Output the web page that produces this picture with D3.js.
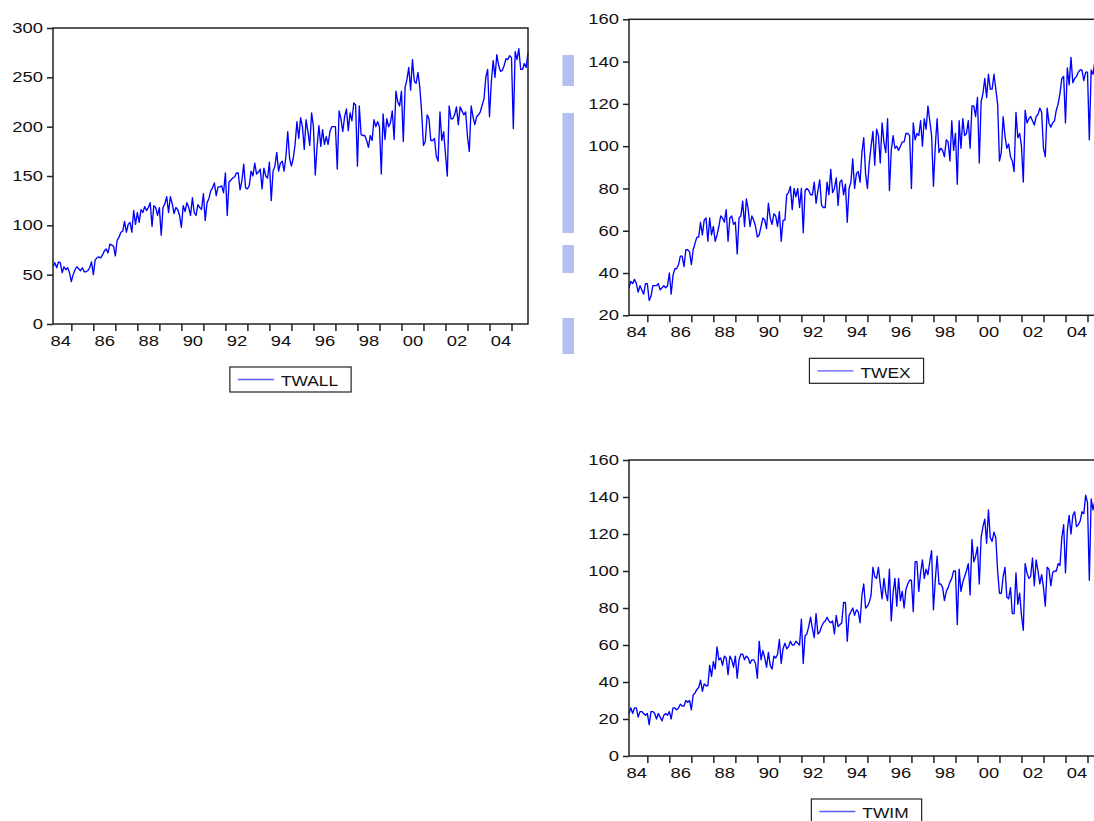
<!DOCTYPE html>
<html>
<head>
<meta charset="utf-8">
<script src="https://cdn.jsdelivr.net/npm/d3@7"></script>
<style>
html, body { margin: 0; padding: 0; background: #fff; overflow: hidden; }
svg { display: block; font-family: "Liberation Sans", Arial, sans-serif; }
</style>
</head>
<body>
<script>
// monthly series, first observation 1984M03, last 2005M10
var startYear = 1984, startMonth = 3;

var twall = [
    58, 62, 57, 63, 62, 52, 58, 55, 57, 52,                 // 1984 Mar-Dec
    43, 50, 55, 58, 56, 54, 57, 53, 53, 54, 57, 63,         // 1985
    50, 65, 67, 68, 67, 70, 74, 76, 72, 81, 80, 79,         // 1986
    69, 85, 88, 93, 94, 104, 93, 101, 103, 93, 115, 101,    // 1987
    113, 103, 116, 113, 119, 115, 118, 123, 99, 120, 118, 110,
    118, 90, 118, 122, 129, 113, 129, 122, 112, 118, 116, 110,
    98, 120, 114, 123, 118, 110, 128, 113, 110, 121, 118, 116,
    132, 105, 123, 127, 135, 138, 143, 130, 139, 139, 140, 133,
    153, 110, 144, 146, 148, 149, 153, 153, 136, 145, 162, 138,
    137, 140, 155, 150, 163, 152, 154, 157, 137, 158, 150, 148,
    164, 125, 155, 160, 174, 155, 163, 165, 155, 170, 195, 168,
    160, 168, 182, 205, 188, 209, 200, 177, 207, 195, 181, 214,
    200, 151, 180, 201, 180, 197, 182, 190, 182, 195, 200, 200,
    200, 157, 216, 208, 195, 210, 218, 196, 214, 206, 224, 222,
    160, 221, 192, 191, 191, 186, 179, 191, 186, 207, 200, 205,
    200, 152, 213, 187, 208, 200, 204, 216, 187, 236, 225, 221,
    236, 185, 240, 248, 260, 237, 268, 246, 244, 255, 240, 215,
    181, 185, 212, 208, 186, 186, 188, 170, 165, 215, 186, 195,
    172, 150, 221, 208, 208, 212, 220, 202, 220, 216, 212, 215,
    190, 175, 221, 210, 202, 210, 212, 215, 222, 228, 250, 258,
    210, 245, 267, 250, 273, 262, 256, 257, 262, 269, 268, 272,
    270, 198, 276, 268, 279, 258, 258, 264, 260, 275         // 2005 Jan-Oct
];

var twex = [
    33, 36, 35, 37, 35, 31, 34, 32, 30, 35,
    35, 27, 29, 34, 34, 34, 35, 32, 33, 34, 33, 34,
    40, 30, 39, 42, 42, 44, 48, 48, 43, 51, 51, 50,
    44, 51, 54, 57, 57, 64, 58, 65, 66, 55, 66, 58,
    62, 55, 58, 62, 67, 66, 64, 70, 55, 66, 67, 63,
    64, 49, 66, 67, 74, 62, 75, 70, 62, 67, 65, 62,
    57, 58, 62, 66, 65, 61, 73, 66, 63, 68, 67, 62,
    69, 55, 65, 65, 77, 78, 81, 70, 80, 76, 80, 71,
    80, 59, 79, 80, 79, 77, 77, 83, 73, 79, 84, 72,
    71, 71, 83, 77, 89, 78, 80, 85, 72, 83, 84, 77,
    82, 64, 80, 83, 94, 80, 87, 88, 83, 97, 104, 87,
    80, 92, 100, 107, 91, 108, 105, 92, 111, 102, 97, 113,
    79, 98, 105, 99, 100, 98, 100, 102, 102, 106, 106, 105,
    80, 111, 103, 106, 105, 112, 100, 113, 108, 119, 112, 105,
    81, 100, 113, 97, 99, 98, 95, 103, 102, 93, 112, 98,
    106, 82, 112, 99, 113, 105, 106, 112, 99, 119, 119, 114,
    123, 92, 121, 125, 132, 123, 134, 127, 127, 134, 127, 120,
    93, 97, 114, 105, 99, 101, 95, 93, 88, 116, 104, 106,
    100, 83, 117, 111, 113, 114, 112, 110, 114, 115, 118, 116,
    99, 95, 118, 111, 109, 111, 112, 117, 120, 125, 132, 133,
    111, 137, 129, 142, 130, 132, 133, 135, 136, 136, 131, 135,
    135, 103, 136, 134, 140, 131, 133, 136, 135, 141
];

var twim = [
    23, 26, 23, 26, 26, 21, 24, 24, 23, 22,
    23, 17, 24, 24, 23, 20, 23, 21, 19, 22, 23, 22,
    24, 20, 26, 26, 25, 26, 28, 27, 27, 30, 29, 30,
    25, 33, 34, 36, 37, 41, 35, 39, 38, 38, 49, 43,
    51, 47, 59, 52, 53, 49, 54, 53, 44, 54, 52, 48,
    54, 42, 52, 55, 55, 52, 54, 53, 50, 52, 52, 50,
    42, 62, 52, 57, 53, 48, 56, 49, 47, 54, 53, 55,
    63, 50, 58, 61, 58, 59, 62, 60, 60, 62, 61, 60,
    74, 50, 65, 66, 70, 75, 69, 64, 77, 66, 67, 70,
    72, 73, 75, 73, 72, 73, 66, 76, 70, 71, 72, 83,
    83, 62, 76, 78, 80, 76, 79, 78, 72, 87, 93, 80,
    81, 83, 87, 102, 97, 96, 102, 93, 85, 96, 88, 84,
    101, 73, 88, 96, 81, 96, 84, 89, 80, 90, 93, 95,
    95, 78, 105, 105, 89, 99, 106, 96, 101, 98, 105, 111,
    79, 95, 108, 93, 93, 91, 84, 89, 91, 94, 96, 100,
    100, 71, 101, 89, 94, 97, 100, 104, 87, 117, 105, 108,
    113, 93, 118, 124, 128, 115, 133, 118, 116, 121, 118, 100,
    88, 88, 97, 102, 86, 85, 91, 77, 77, 99, 82, 88,
    76, 68, 104, 99, 96, 97, 107, 92, 106, 100, 93, 98,
    91, 81, 102, 101, 92, 99, 100, 100, 104, 103, 118, 125,
    99, 122, 130, 120, 130, 132, 124, 125, 127, 132, 131, 141,
    137, 95, 139, 133, 138, 127, 125, 128, 125, 134
];

var yearTicks = d3.range(1985, 2006);
var labelYears = [1984, 1986, 1988, 1990, 1992, 1994, 1996, 1998, 2000, 2002, 2004];
var yearLabels = ["84", "86", "88", "90", "92", "94", "96", "98", "00", "02", "04"];
var ticksAll = [0, 50, 100, 150, 200, 250, 300];
var ticksEx = [20, 40, 60, 80, 100, 120, 140, 160];
var ticksIm = [0, 20, 40, 60, 80, 100, 120, 140, 160];

// faint scan marks between the two columns
var smudges = [[55, 86], [113, 233], [245, 273], [318, 354]];

var timeOf = function(i) {
    return startYear + (startMonth - 1 + i) / 12;
};

var svg = d3.select("body").append("svg")
    .attr("width", 1094)
    .attr("height", 821);

svg.append("rect").attr("width", 1094).attr("height", 821).attr("fill", "#fff");

svg.selectAll("rect.smudge")
    .data(smudges)
    .enter().append("rect")
    .attr("class", "smudge")
    .attr("x", 562.5)
    .attr("width", 11.5)
    .attr("y", function(d) { return d[0]; })
    .attr("height", function(d) { return d[1] - d[0]; })
    .attr("fill", "#b3bff1");

// horizontal stretch of the scanned lettering
var stretch = function(sel, sx) {
    sel.each(function() {
        var t = d3.select(this);
        var x = +t.attr("x") || 0;
        t.attr("x", x / sx).attr("transform", "scale(" + sx + ",1)");
    });
};

var drawPanel = function(left, top, values, yDomain, yTicks, name) {
    var w = 475, h = 296;
    var g = svg.append("g").attr("transform", "translate(" + left + "," + top + ")");

    var x = d3.scaleLinear()
        .domain([timeOf(0), timeOf(values.length - 1)])
        .range([0, w]);
    var y = d3.scaleLinear().domain(yDomain).range([h, 0]);

    var yAxis = g.append("g")
        .call(d3.axisLeft(y).tickValues(yTicks).tickSize(6).tickPadding(4));

    var xAxis = g.append("g")
        .attr("transform", "translate(0," + h + ")")
        .call(d3.axisBottom(x).tickValues(yearTicks).tickSize(7).tickFormat(""));

    var xLabels = g.append("g")
        .attr("transform", "translate(0," + h + ")")
        .call(d3.axisBottom(x)
            .tickValues(labelYears.map(function(d) { return d + 0.5; }))
            .tickSize(0)
            .tickPadding(11.5)
            .tickFormat(function(d) { return yearLabels[labelYears.indexOf(d - 0.5)]; }));

    g.selectAll(".domain").remove();
    g.selectAll(".tick line").attr("stroke", "#222").attr("stroke-width", 1.5);
    [yAxis, xAxis, xLabels].forEach(function(a) {
        a.attr("font-family", null).attr("font-size", null);
        a.selectAll("text")
            .attr("font-size", 14.5)
            .attr("fill", "#111");
        stretch(a.selectAll("text"), 1.27);
    });

    var line = d3.line()
        .x(function(d, i) { return x(timeOf(i)); })
        .y(function(d) { return y(d); });

    g.append("path")
        .datum(values)
        .attr("d", line)
        .attr("fill", "none")
        .attr("stroke", "#0000ff")
        .attr("stroke-width", 1.35)
        .attr("stroke-linejoin", "round");

    g.append("rect")
        .attr("width", w)
        .attr("height", h)
        .attr("fill", "none")
        .attr("stroke", "#222")
        .attr("stroke-width", 1.5);

    // legend box under the frame
    var lg = g.append("g");
    var txt = lg.append("text")
        .attr("font-size", 15.5)
        .attr("fill", "#111")
        .attr("y", 19.5)
        .text(name);
    var sx = 1.12;
    var tw = txt.node().getComputedTextLength() * sx;
    var bw = 8 + 36 + 7 + tw + 13;
    txt.attr("x", (8 + 36 + 7) / sx).attr("transform", "scale(" + sx + ",1)");
    lg.insert("rect", "text")
        .attr("width", bw)
        .attr("height", 25)
        .attr("fill", "#fff")
        .attr("stroke", "#222")
        .attr("stroke-width", 1.2);
    lg.append("line")
        .attr("x1", 8).attr("x2", 44)
        .attr("y1", 12.5).attr("y2", 12.5)
        .attr("stroke", "#5a5aff")
        .attr("stroke-width", 1.3);
    lg.attr("transform", "translate(" + (w / 2 - bw / 2) + "," + (h + 43) + ")");
};

drawPanel(53, 28, twall, [0, 300], ticksAll, "TWALL");
drawPanel(629, 19.3, twex, [20, 160], ticksEx, "TWEX");
drawPanel(629, 460, twim, [0, 160], ticksIm, "TWIM");
</script>
</body>
</html>
